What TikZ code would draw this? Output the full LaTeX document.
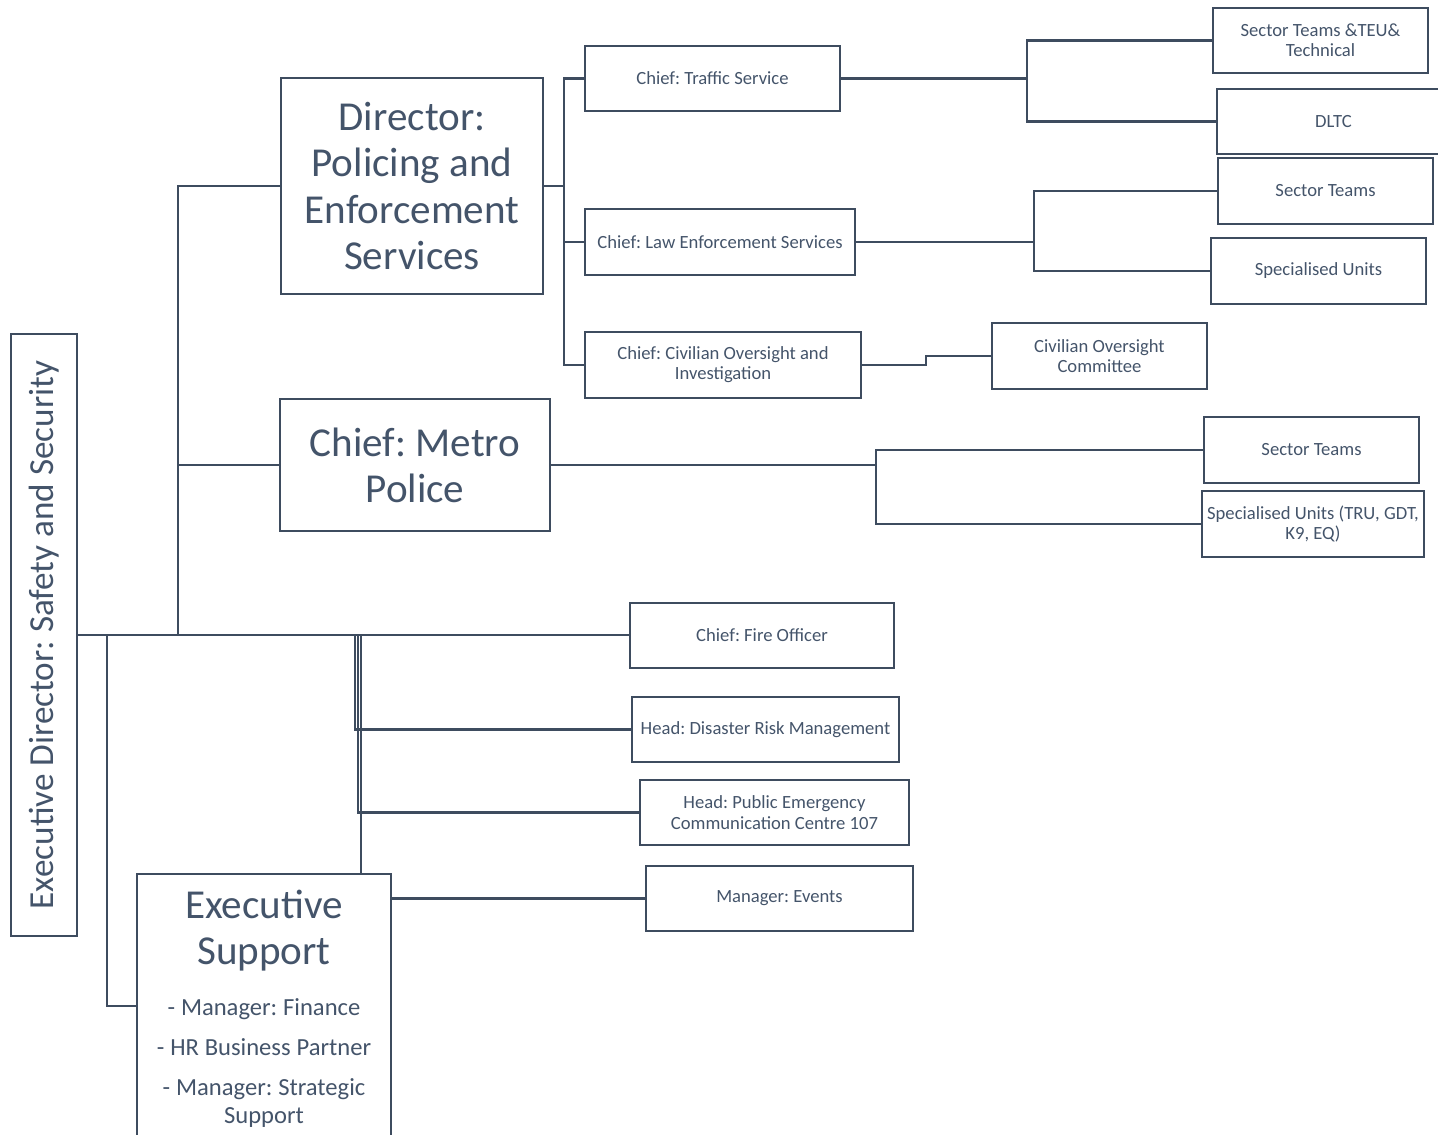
\documentclass[tikz,border=0pt]{standalone}
\usepackage{fontspec}
\setmainfont{Carlito}
\usepackage{graphicx}
\usetikzlibrary{calc}
\definecolor{slatetext}{HTML}{44546A}
\definecolor{slateline}{HTML}{3E4C5F}
\tikzset{
  orgbox/.style 2 args={draw=slateline, line width=1.5pt, text=slatetext, inner sep=0pt, outer sep=0pt,
    align=center, minimum width=#1*0.02cm, minimum height=#2*0.02cm},
  orgline/.style={draw=slateline, line width=1.4pt},
  smalltext/.style={font=\fontsize{10.6}{11.5}\selectfont},
  bigtext/.style={font=\fontsize{23.4}{26.2}\selectfont},
}
\frenchspacing
\begin{document}
\begin{tikzpicture}[x=0.02cm, y=-0.02cm]
            \useasboundingbox (0,0) rectangle (1438,1135);
            \clip (0,0) rectangle (1438,1135);
            
            % Box for the executive director
            \node [orgbox={66}{602}, font=\fontsize{20}{24}\selectfont] (execdir) at (44,635) {\rotatebox{90}{Executive Director: Safety and Security}};%
            
            % Boxes for the two large departments
            \node [orgbox={262}{216}, bigtext] (dirpol) at (412,186) {Director:\\Policing and\\Enforcement\\Services};%
            \node [orgbox={270}{132}, bigtext] (metro) at (415,465) {Chief: Metro\\Police};%
            
            % Boxes under the director
            \node [orgbox={255}{65}, smalltext] (traffic) at (712.5,78.5) {Chief: Traffic Service};%
            \node [orgbox={270}{66}, smalltext] (lawenf) at (720,242) {Chief: Law Enforcement Services};%
            \node [orgbox={276}{66}, smalltext] (civil) at (723,365) {Chief: Civilian Oversight and\\Investigation};%
            
            % Boxes at the right hand side
            \node [orgbox={215}{65}, smalltext] (sectteu) at (1320.5,40.5) {Sector Teams \&TEU\&\\Technical};%
            \node [orgbox={233}{65}, smalltext] (dltc) at (1333.5,121.5) {DLTC};%
            \node [orgbox={215}{66}, smalltext] (sectle) at (1325.5,191) {Sector Teams};%
            \node [orgbox={215}{66}, smalltext] (specle) at (1318.5,271) {Specialised Units};%
            \node [orgbox={215}{66}, smalltext] (civcom) at (1099.5,356) {Civilian Oversight\\Committee};%
            \node [orgbox={215}{66}, smalltext] (sectmp) at (1311.5,450) {Sector Teams};%
            \node [orgbox={222}{66}, smalltext] (specmp) at (1313,524) {Specialised Units (TRU, GDT,\\K9, EQ)};%
            
            % Boxes on the lower branch
            \node [orgbox={264}{65}, smalltext] (fire) at (762,635.5) {Chief: Fire Officer};%
            \node [orgbox={267}{65}, smalltext] (drm) at (765.5,729.5) {Head: Disaster Risk Management};%
            \node [orgbox={269}{65}, smalltext] (pecc) at (774.5,812.5) {Head: Public Emergency\\Communication Centre 107};%
            \node [orgbox={267}{65}, smalltext] (events) at (779.5,898.5) {Manager: Events};%
            
            % Box for executive support, cut at the bottom
            \node [orgbox={254}{0}, text width=254*0.02cm, inner ysep=9.4pt, anchor=north] (exsup) at (264,874) {%
              {\fontsize{23.4}{26.2}\selectfont Executive\par Support\par}\vspace{12.8pt}%
              {\fontsize{14}{15.9}\selectfont - Manager: Finance\par}\vspace{6.8pt}%
              {\fontsize{14}{15.9}\selectfont - HR Business Partner\par}\vspace{6.8pt}%
              {\fontsize{14}{15.9}\selectfont - Manager: Strategic\par Support\par}\vspace{30pt}};%
            
            % Joining the executive director to the branches
            \coordinate (trunk) at (178,635);
            \coordinate (supbus) at (107,635);
            \draw [orgline] (execdir.east) -- (execdir.east -| fire.west);%
            \draw [orgline] (dirpol.west) -| (trunk);%
            \draw [orgline] (metro.west) -- (metro.west -| trunk);%
            \draw [orgline] (supbus) |- ($(exsup.north west)+(0,132)$);%
            
            % Joining the lower boxes
            \coordinate (busa) at (355,635);
            \coordinate (busb) at (358,635);
            \coordinate (busc) at (361,635);
            \draw [orgline] (busa) |- (drm.west);%
            \draw [orgline] (busb) |- (pecc.west);%
            \draw [orgline] (busc) -- (busc |- exsup.north);%
            \draw [orgline] (events.west -| exsup.east) -- (events.west);%
            
            % Joining the director to the chiefs
            \coordinate (dirbus) at ($(dirpol.east)+(21,0)$);
            \draw [orgline] (dirpol.east) -- (dirbus);%
            \draw [orgline] (traffic.west) -| (dirbus) |- (civil.west);%
            \draw [orgline] (lawenf.west) -- (lawenf.west -| dirbus);%
            
            % Joining the chiefs to their teams
            \coordinate (trafbus) at ($(traffic.east)+(187,0)$);
            \draw [orgline] (traffic.east) -- (trafbus);%
            \draw [orgline] (sectteu.west) -| (trafbus) |- (dltc.west);%
            \coordinate (lawbus) at ($(lawenf.east)+(179,0)$);
            \draw [orgline] (lawenf.east) -- (lawbus);%
            \draw [orgline] (sectle.west) -| (lawbus) |- (specle.west);%
            \draw [orgline] (civil.east) -- ++(65,0) |- (civcom.west);%
            \coordinate (metbus) at ($(metro.east)+(326,0)$);
            \draw [orgline] (metro.east) -- (metbus);%
            \draw [orgline] (sectmp.west) -| (metbus) |- (specmp.west);%
\end{tikzpicture}
\end{document}
